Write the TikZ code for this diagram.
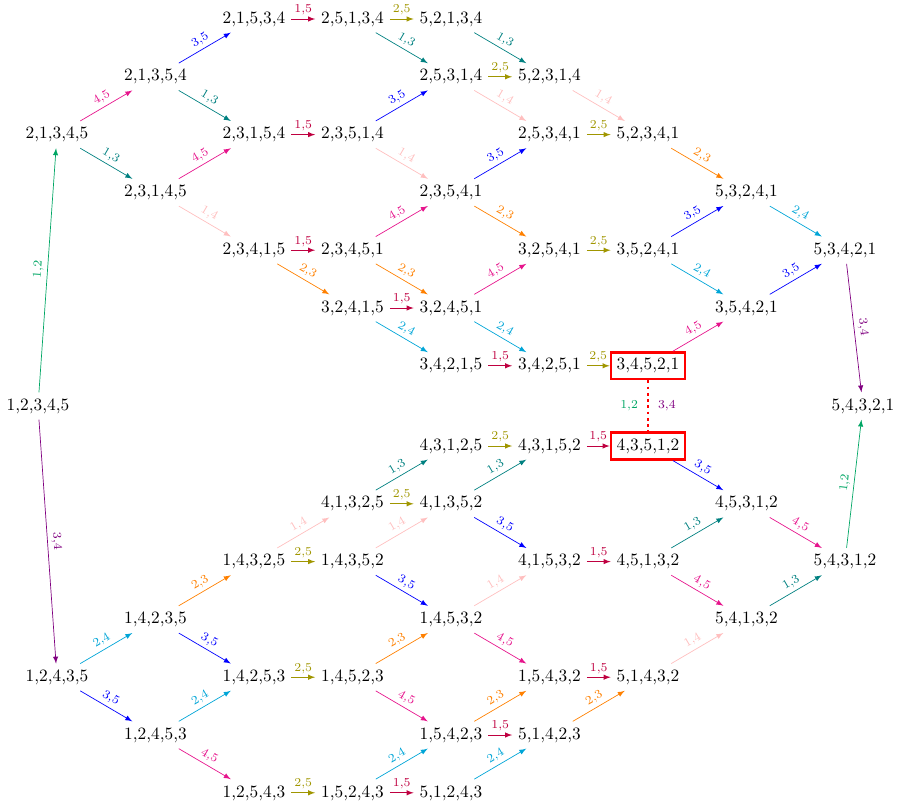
\documentclass[tikz,border=0pt]{standalone}
\usetikzlibrary{arrows}
\definecolor{c12}{RGB}{0,166,100}
\definecolor{c13}{RGB}{0,128,128}
\definecolor{c14}{RGB}{255,191,191}
\definecolor{c15}{RGB}{191,0,64}
\definecolor{c23}{RGB}{255,128,0}
\definecolor{c24}{RGB}{0,165,215}
\definecolor{c25}{RGB}{160,150,0}
\definecolor{c34}{RGB}{128,0,128}
\definecolor{c35}{RGB}{0,0,255}
\definecolor{c45}{RGB}{230,20,140}
\newcommand\myedge[4]{\draw[color=c#3#4,-latex] (#1) -- node[lab]{#3,#4} (#2);}
\begin{document}
\begin{tikzpicture}[x=0.5777pt,y=-0.5777pt,
  perm/.style={inner sep=0.3333em},
  redbox/.style={perm,draw=red,ultra thick},
  lab/.style={midway,sloped,above,font=\scriptsize,inner sep=2pt}]
\useasboundingbox (0,0) rectangle (897,805);
% columns
\def\cA{57}\def\cB{155.5}\def\cC{254}\def\cD{352.5}\def\cE{451}
\def\cF{549.5}\def\cG{648}\def\cH{746.5}\def\cI{845}
% top rows
\def\tA{19}\def\tB{76.8}\def\tC{134.6}\def\tD{192.4}\def\tE{250.2}\def\tF{308}\def\tG{365.8}
% bottom rows
\def\bA{446}\def\bB{503.8}\def\bC{561.6}\def\bD{619.4}\def\bE{677.2}\def\bF{735}\def\bG{792.8}
% middle
\node[perm] (12345) at (38,406) {1,2,3,4,5};
\node[perm] (54321) at (863,406) {5,4,3,2,1};
% top half
\node[perm] (21534) at (\cC,\tA) {2,1,5,3,4};
\node[perm] (25134) at (\cD,\tA) {2,5,1,3,4};
\node[perm] (52134) at (\cE,\tA) {5,2,1,3,4};
\node[perm] (21354) at (\cB,\tB) {2,1,3,5,4};
\node[perm] (25314) at (\cE,\tB) {2,5,3,1,4};
\node[perm] (52314) at (\cF,\tB) {5,2,3,1,4};
\node[perm] (21345) at (\cA,\tC) {2,1,3,4,5};
\node[perm] (23154) at (\cC,\tC) {2,3,1,5,4};
\node[perm] (23514) at (\cD,\tC) {2,3,5,1,4};
\node[perm] (25341) at (\cF,\tC) {2,5,3,4,1};
\node[perm] (52341) at (\cG,\tC) {5,2,3,4,1};
\node[perm] (23145) at (\cB,\tD) {2,3,1,4,5};
\node[perm] (23541) at (\cE,\tD) {2,3,5,4,1};
\node[perm] (53241) at (\cH,\tD) {5,3,2,4,1};
\node[perm] (23415) at (\cC,\tE) {2,3,4,1,5};
\node[perm] (23451) at (\cD,\tE) {2,3,4,5,1};
\node[perm] (32541) at (\cF,\tE) {3,2,5,4,1};
\node[perm] (35241) at (\cG,\tE) {3,5,2,4,1};
\node[perm] (53421) at (\cI,\tE) {5,3,4,2,1};
\node[perm] (32415) at (\cD,\tF) {3,2,4,1,5};
\node[perm] (32451) at (\cE,\tF) {3,2,4,5,1};
\node[perm] (35421) at (\cH,\tF) {3,5,4,2,1};
\node[perm] (34215) at (\cE,\tG) {3,4,2,1,5};
\node[perm] (34251) at (\cF,\tG) {3,4,2,5,1};
\node[redbox] (34521) at (\cG,\tG) {3,4,5,2,1};
% bottom half
\node[perm] (43125) at (\cE,\bA) {4,3,1,2,5};
\node[perm] (43152) at (\cF,\bA) {4,3,1,5,2};
\node[redbox] (43512) at (\cG,\bA) {4,3,5,1,2};
\node[perm] (41325) at (\cD,\bB) {4,1,3,2,5};
\node[perm] (41352) at (\cE,\bB) {4,1,3,5,2};
\node[perm] (45312) at (\cH,\bB) {4,5,3,1,2};
\node[perm] (14325) at (\cC,\bC) {1,4,3,2,5};
\node[perm] (14352) at (\cD,\bC) {1,4,3,5,2};
\node[perm] (41532) at (\cF,\bC) {4,1,5,3,2};
\node[perm] (45132) at (\cG,\bC) {4,5,1,3,2};
\node[perm] (54312) at (\cI,\bC) {5,4,3,1,2};
\node[perm] (14235) at (\cB,\bD) {1,4,2,3,5};
\node[perm] (14532) at (\cE,\bD) {1,4,5,3,2};
\node[perm] (54132) at (\cH,\bD) {5,4,1,3,2};
\node[perm] (12435) at (\cA,\bE) {1,2,4,3,5};
\node[perm] (14253) at (\cC,\bE) {1,4,2,5,3};
\node[perm] (14523) at (\cD,\bE) {1,4,5,2,3};
\node[perm] (15432) at (\cF,\bE) {1,5,4,3,2};
\node[perm] (51432) at (\cG,\bE) {5,1,4,3,2};
\node[perm] (12453) at (\cB,\bF) {1,2,4,5,3};
\node[perm] (15423) at (\cE,\bF) {1,5,4,2,3};
\node[perm] (51423) at (\cF,\bF) {5,1,4,2,3};
\node[perm] (12543) at (\cC,\bG) {1,2,5,4,3};
\node[perm] (15243) at (\cD,\bG) {1,5,2,4,3};
\node[perm] (51243) at (\cE,\bG) {5,1,2,4,3};
% top edges
\myedge{12345}{21345}{1}{2}
\myedge{12345}{12435}{3}{4}
\myedge{21345}{21354}{4}{5}
\myedge{21345}{23145}{1}{3}
\myedge{21354}{21534}{3}{5}
\myedge{21354}{23154}{1}{3}
\myedge{23145}{23154}{4}{5}
\myedge{23145}{23415}{1}{4}
\myedge{21534}{25134}{1}{5}
\myedge{23154}{23514}{1}{5}
\myedge{23415}{23451}{1}{5}
\myedge{23415}{32415}{2}{3}
\myedge{25134}{52134}{2}{5}
\myedge{25134}{25314}{1}{3}
\myedge{23514}{25314}{3}{5}
\myedge{23514}{23541}{1}{4}
\myedge{23451}{23541}{4}{5}
\myedge{23451}{32451}{2}{3}
\myedge{32415}{32451}{1}{5}
\myedge{32415}{34215}{2}{4}
\myedge{52134}{52314}{1}{3}
\myedge{25314}{52314}{2}{5}
\myedge{25314}{25341}{1}{4}
\myedge{23541}{25341}{3}{5}
\myedge{23541}{32541}{2}{3}
\myedge{32451}{32541}{4}{5}
\myedge{32451}{34251}{2}{4}
\myedge{34215}{34251}{1}{5}
\myedge{52314}{52341}{1}{4}
\myedge{25341}{52341}{2}{5}
\myedge{52341}{53241}{2}{3}
\myedge{32541}{35241}{2}{5}
\myedge{35241}{53241}{3}{5}
\myedge{35241}{35421}{2}{4}
\myedge{34251}{34521}{2}{5}
\myedge{34521}{35421}{4}{5}
\myedge{53241}{53421}{2}{4}
\myedge{35421}{53421}{3}{5}
\myedge{53421}{54321}{3}{4}
% bottom edges
\myedge{12435}{14235}{2}{4}
\myedge{12435}{12453}{3}{5}
\myedge{14235}{14325}{2}{3}
\myedge{14235}{14253}{3}{5}
\myedge{12453}{14253}{2}{4}
\myedge{12453}{12543}{4}{5}
\myedge{14325}{41325}{1}{4}
\myedge{14325}{14352}{2}{5}
\myedge{14253}{14523}{2}{5}
\myedge{12543}{15243}{2}{5}
\myedge{41325}{43125}{1}{3}
\myedge{41325}{41352}{2}{5}
\myedge{14352}{41352}{1}{4}
\myedge{14352}{14532}{3}{5}
\myedge{14523}{14532}{2}{3}
\myedge{14523}{15423}{4}{5}
\myedge{15243}{15423}{2}{4}
\myedge{15243}{51243}{1}{5}
\myedge{43125}{43152}{2}{5}
\myedge{41352}{43152}{1}{3}
\myedge{41352}{41532}{3}{5}
\myedge{14532}{41532}{1}{4}
\myedge{14532}{15432}{4}{5}
\myedge{15423}{15432}{2}{3}
\myedge{15423}{51423}{1}{5}
\myedge{51243}{51423}{2}{4}
\myedge{43152}{43512}{1}{5}
\myedge{41532}{45132}{1}{5}
\myedge{15432}{51432}{1}{5}
\myedge{51423}{51432}{2}{3}
\myedge{43512}{45312}{3}{5}
\myedge{45132}{45312}{1}{3}
\myedge{45132}{54132}{4}{5}
\myedge{51432}{54132}{1}{4}
\myedge{45312}{54312}{4}{5}
\myedge{54132}{54312}{1}{3}
\myedge{54312}{54321}{1}{2}
% dotted link
\draw[red,ultra thick,dotted] (34521) -- node[left,font=\scriptsize,text=c12,inner sep=5pt]{1,2} node[right,font=\scriptsize,text=c34,inner sep=5pt]{3,4} (43512);
\end{tikzpicture}
\end{document}
